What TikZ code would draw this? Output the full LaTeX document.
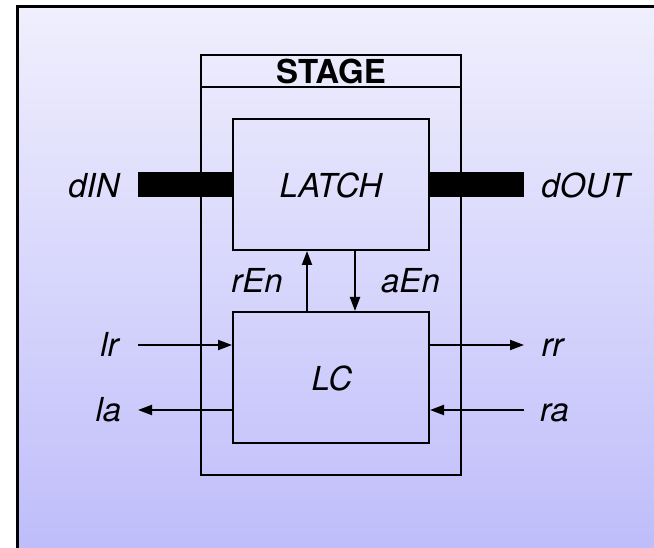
\documentclass[tikz,border=0pt]{standalone}
\usepackage{fontspec}
\setmainfont{TeX Gyre Heros}
\usetikzlibrary{arrows.meta,calc}
\definecolor{bgtop}{RGB}{240,239,253}
\definecolor{bgbot}{RGB}{190,188,250}
\begin{document}
\begin{tikzpicture}[x=1pt,y=-1pt,
  box/.style={draw=black,line width=2pt,rectangle,inner sep=0pt},
  lbl/.style={anchor=base,inner sep=0pt,font=\fontsize{33}{39}\selectfont\itshape},
  wire/.style={line width=2pt,-{Triangle[length=14pt,width=10pt]}},
  bus/.style={line width=25pt}]
\useasboundingbox (0,0) rectangle (654,548);
\begin{scope}
\clip (0,0) rectangle (654,548);
\shade[top color=bgtop,bottom color=bgbot] (17.5,6.5) rectangle (670,560);
\draw[line width=3pt] (17.5,6.5) rectangle (670,560);
\end{scope}
% stage
\node[box,minimum width=260pt,minimum height=420pt] (stage) at (331,265) {};
\coordinate (tl) at (201,87);
\coordinate (tr) at (461,87);
\draw[line width=2pt] (tl) -- (tr);
\node[anchor=base,inner sep=0pt,font=\fontsize{33}{39}\selectfont\bfseries] (stagelbl) at (331,83.5) {STAGE};
% latch and lc
\node[box,minimum width=196pt,minimum height=131pt] (latch) at (331,184.5) {};
\node[box,minimum width=196pt,minimum height=131pt] (lc) at (331,377.5) {};
\node[lbl] (latchlbl) at (331,197.5) {LATCH};
\node[lbl] (lclbl) at (332,390) {LC};
% buses
\coordinate (din) at (138,184.5);
\coordinate (dout) at (524,184.5);
\draw[bus] (din) -- (latch.west);
\draw[bus] (latch.east) -- (dout);
\node[lbl] (dinlbl) at (94,197.5) {dIN};
\node[lbl] (doutlbl) at (585.5,197.5) {dOUT};
% enables
\coordinate (rx) at (307,0);
\coordinate (ax) at (355,0);
\draw[wire] (lc.north -| rx) -- (latch.south -| rx);
\draw[wire] (latch.south -| ax) -- (lc.north -| ax);
\node[lbl] (renlbl) at (257,293) {rEn};
\node[lbl] (aenlbl) at (410.5,293) {aEn};
% handshake
\coordinate (lr) at (138,345);
\coordinate (la) at (138,410);
\coordinate (rr) at (524,345);
\coordinate (ra) at (524,410);
\draw[wire] (lr) -- (lc.west |- lr);
\draw[wire] (lc.west |- la) -- (la);
\draw[wire] (lc.east |- rr) -- (rr);
\draw[wire] (ra) -- (lc.east |- ra);
\node[lbl] (lrlbl) at (109.5,357) {lr};
\node[lbl] (lalbl) at (108.5,421) {la};
\node[lbl] (rrlbl) at (552.5,357) {rr};
\node[lbl] (ralbl) at (554.5,421) {ra};
\end{tikzpicture}
\end{document}
